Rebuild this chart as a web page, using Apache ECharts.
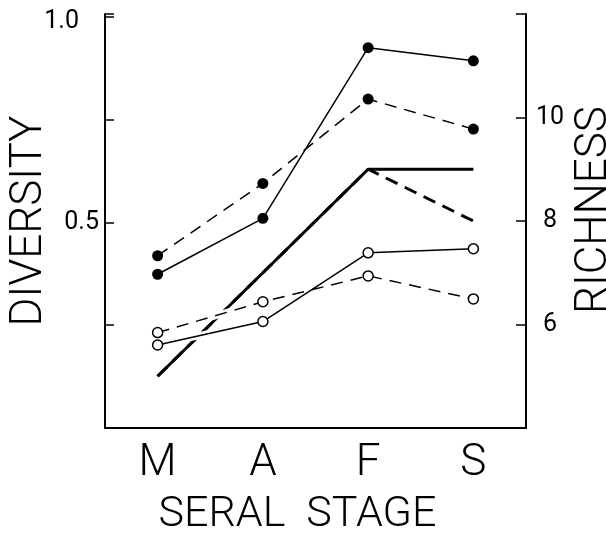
<!DOCTYPE html>
<html>
<head>
<meta charset="utf-8">
<script src="https://cdn.jsdelivr.net/npm/echarts@6/dist/echarts.min.js"></script>
<style>
  html, body { margin: 0; padding: 0; background: #fff; }
  #chart { width: 606px; height: 537px; }
</style>
</head>
<body>
<div id="chart"></div>
<script>
// Seral stages along the x axis
const stages = ['M', 'A', 'F', 'S'];

// Diversity (left axis): filled and open circle series
const diversityFilledSolid  = [0.374, 0.510, 0.925, 0.893];
const diversityFilledDashed = [0.419, 0.595, 0.800, 0.727];
const diversityOpenSolid    = [0.202, 0.259, 0.426, 0.436];
const diversityOpenDashed   = [0.232, 0.307, 0.370, 0.314];

// Richness (right axis): heavy lines without markers
const richnessSolid  = [5, 7, 9, 9];
const richnessDashed = [5, 7, 9, 8];

// Labelled ticks
const diversityTickLabels = { '1': '1.0', '0.5': '0.5' };
const richnessTickLabels = [6, 8, 10];

const FONT = 'Roboto, "Liberation Sans", sans-serif';
const INK = '#000';

const chart = echarts.init(document.getElementById('chart'), null, { renderer: 'canvas' });

function filledSeries(data, type) {
  return {
    type: 'line', data: data, yAxisIndex: 0, z: 5,
    symbol: 'circle', symbolSize: 11,
    itemStyle: { color: INK, borderWidth: 0 },
    lineStyle: { color: INK, width: 1.5, type: type === 'dashed' ? [12, 8] : 'solid' },
    animation: false
  };
}
function openSeries(data, type) {
  return {
    type: 'line', data: data, yAxisIndex: 0, z: 4,
    symbol: 'circle', symbolSize: 10,
    itemStyle: { color: '#fff', borderColor: INK, borderWidth: 1.5 },
    lineStyle: { color: INK, width: 1.5, type: type === 'dashed' ? [12, 8] : 'solid' },
    animation: false
  };
}
// white band under the thin lines so the heavy line breaks where they cross
function haloSeries(data) {
  return {
    type: 'line', data: data, yAxisIndex: 0, z: 3,
    symbol: 'none', silent: true,
    lineStyle: { color: '#fff', width: 7 },
    animation: false
  };
}
function richnessSeries(data, type, z) {
  return {
    type: 'line', data: data, yAxisIndex: 1, z: z,
    symbol: 'none',
    lineStyle: { color: INK, width: 3, type: type === 'dashed' ? [13, 8] : 'solid' },
    animation: false
  };
}

chart.setOption({
  backgroundColor: '#fff',
  animation: false,
  grid: { left: 105, right: 80, top: 14, bottom: 109, containLabel: false, outerBoundsMode: 'none' },
  xAxis: {
    type: 'category',
    data: stages,
    boundaryGap: true,
    axisLine: { lineStyle: { color: INK, width: 2 } },
    axisTick: { inside: true, alignWithLabel: true, length: 8, lineStyle: { color: INK, width: 1.5 } },
    axisLabel: { color: INK, fontFamily: FONT, fontWeight: 300, fontSize: 44, margin: 14 },
    name: 'SERAL  STAGE',
    nameLocation: 'middle',
    nameGap: 66,
    nameMoveOverlap: false,
    nameTextStyle: { color: INK, fontFamily: FONT, fontWeight: 300, fontSize: 43, padding: [0, 36, 0, 0] },
    splitLine: { show: false }
  },
  yAxis: [
    {
      type: 'value', position: 'left',
      min: 0, max: 1.007, interval: 0.25,
      axisLine: { show: true, lineStyle: { color: INK, width: 2 } },
      axisTick: { show: true, inside: true, length: 9, lineStyle: { color: INK, width: 1.5 } },
      axisLabel: {
        color: INK, fontFamily: FONT, fontSize: 25, margin: 6,
        formatter: function (v) {
          const key = String(v);
          if (key === '1') return '{top|' + diversityTickLabels[key] + '}';
          if (key === '0.5') return diversityTickLabels[key];
          return '';
        },
        rich: {
          top: { color: INK, fontFamily: FONT, fontSize: 25, padding: [10, 20, 0, 0] }
        }
      },
      splitLine: { show: false },
      name: 'DIVERSITY',
      nameLocation: 'middle',
      nameRotate: 90,
      nameGap: 53,
      nameMoveOverlap: false,
      nameTextStyle: { color: INK, fontFamily: FONT, fontWeight: 300, fontSize: 44 }
    },
    {
      type: 'value', position: 'right',
      min: 4, max: 12, interval: 2,
      axisLine: { show: true, lineStyle: { color: INK, width: 2 } },
      axisTick: { show: true, inside: true, length: 10, lineStyle: { color: INK, width: 1.5 } },
      axisLabel: {
        color: INK, fontFamily: FONT, fontSize: 25, margin: 24, align: 'center',
        formatter: function (v) { return richnessTickLabels.indexOf(v) >= 0 ? String(v) : ''; }
      },
      splitLine: { show: false },
      name: 'RICHNESS',
      nameLocation: 'middle',
      nameRotate: 90,
      nameGap: 47,
      nameMoveOverlap: false,
      nameTextStyle: { color: INK, fontFamily: FONT, fontWeight: 300, fontSize: 44, padding: [0, 0, 0, 22] }
    }
  ],
  series: [
    richnessSeries(richnessDashed, 'dashed', 1),
    richnessSeries(richnessSolid, 'solid', 2),
    haloSeries(diversityOpenSolid),
    haloSeries(diversityOpenDashed),
    openSeries(diversityOpenSolid, 'solid'),
    openSeries(diversityOpenDashed, 'dashed'),
    filledSeries(diversityFilledSolid, 'solid'),
    filledSeries(diversityFilledDashed, 'dashed')
  ]
});
</script>
</body>
</html>
